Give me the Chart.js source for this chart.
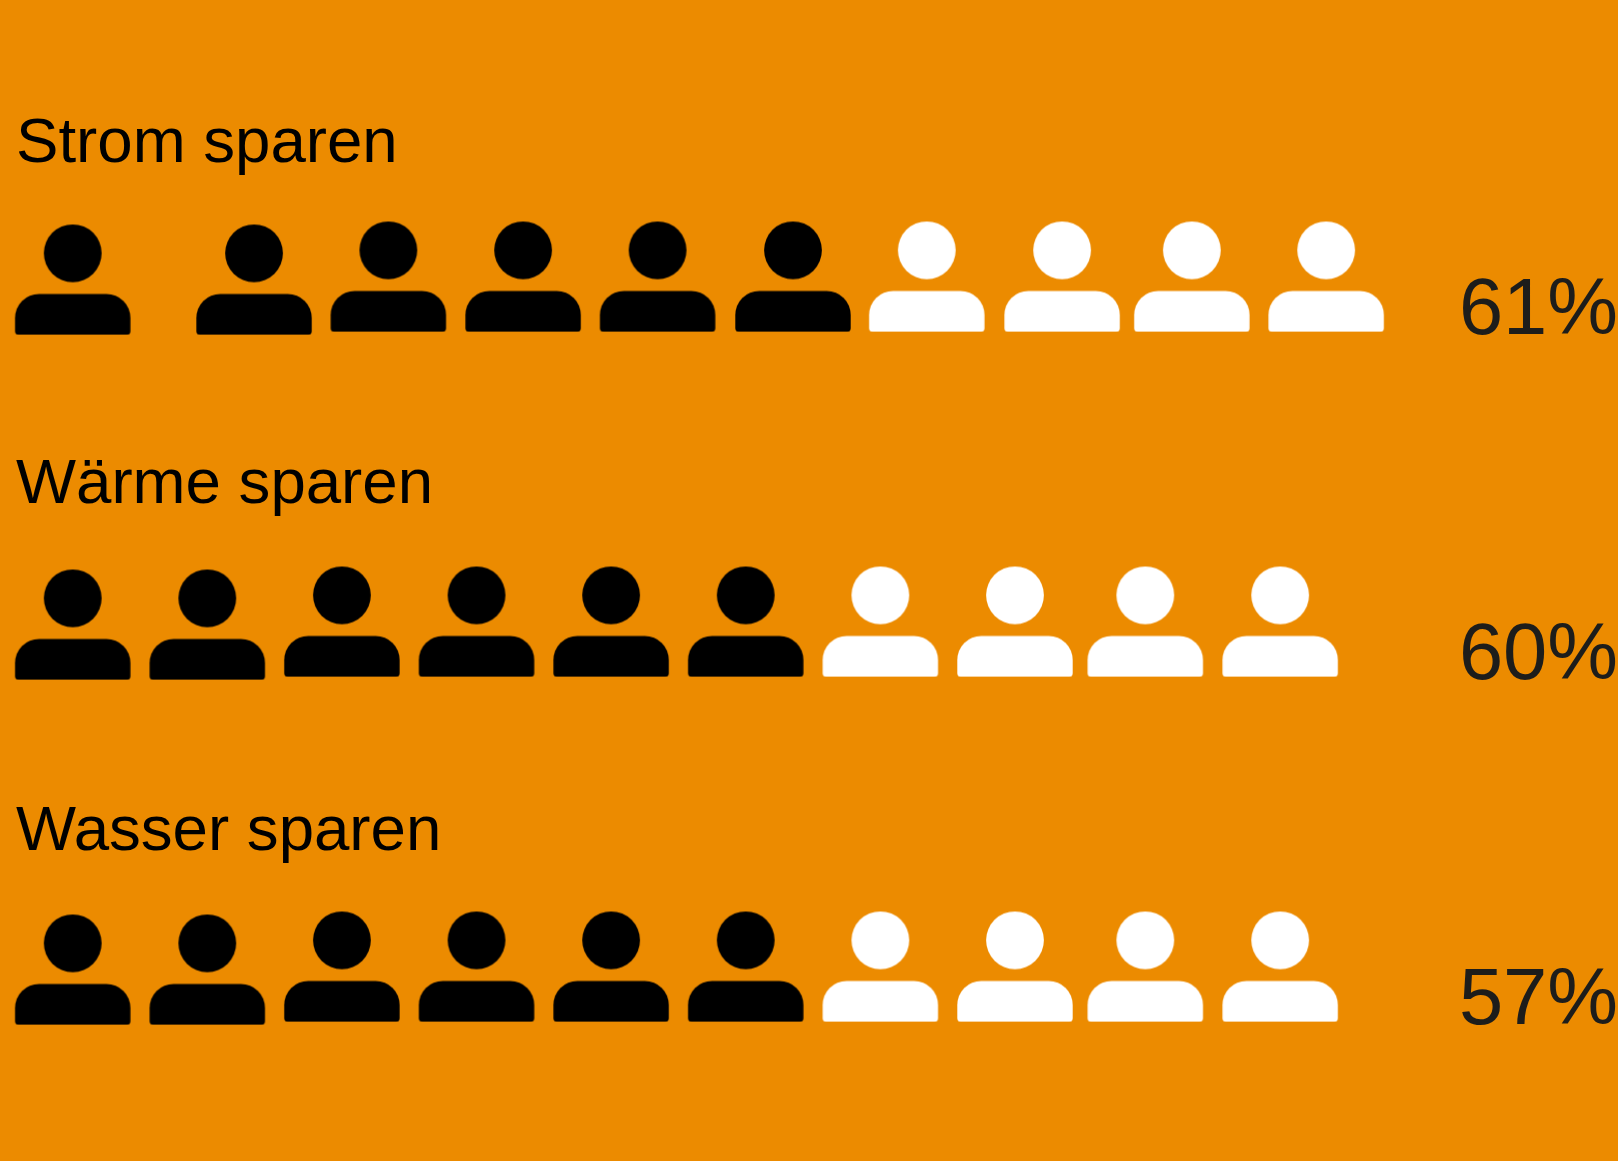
<!DOCTYPE html>
<html lang="de">
<head>
<meta charset="utf-8">
<title>Sparen</title>
<script src="https://cdn.jsdelivr.net/npm/chart.js@4"></script>
<style>
  html, body { margin: 0; padding: 0; background: #ec8b00; }
  canvas { display: block; }
</style>
</head>
<body>
<canvas id="myChart" width="1618" height="1161"></canvas>
<script>
const categories = ['Strom sparen', 'Wärme sparen', 'Wasser sparen'];
const shares = [61, 60, 57];
const personSlots = [0, 1, 2, 3, 4, 5, 6, 7, 8, 9];

// the icons in the original are not evenly spaced, slots are nudged per row
const slotShift = [
  [0, 0.347, 0.345, 0.346, 0.345, 0.351, 0.345, 0.35, 0.314, 0.312],
  [0, 0, 0, 0, 0, 0, 0, 0, -0.032, -0.03],
  [0, 0, 0, 0, 0, 0, 0, 0, -0.032, -0.03]
];
const slotDrop = [0.0087, 0.0087, 0, 0, 0, 0, 0, 0, 0, 0];
const titleOffset = [-0.382, -0.3947, -0.3883];
const shareOffset = [0.1023, 0.1023, 0.1023];

function person(color) {
  const c = document.createElement('canvas');
  c.width = 120;
  c.height = 112;
  const g = c.getContext('2d');
  g.fillStyle = color;
  g.beginPath();
  g.arc(60, 29.8, 28.9, 0, Math.PI * 2);
  g.fill();
  g.beginPath();
  g.roundRect(2.3, 70.5, 115.4, 40.7, [24, 24, 3.5, 3.5]);
  g.fill();
  return c;
}

const filled = [];
const empty = [];
categories.forEach((name, row) => {
  personSlots.forEach((slot, i) => {
    const p = { x: slot + slotShift[row][i], y: row + slotDrop[i] };
    if (slot < Math.round(shares[row] / 10)) filled.push(p);
    else empty.push(p);
  });
});

const rowTicks = (offset) => (axis) => {
  axis.ticks = categories.map((name, row) => ({ value: row + offset[row] }));
};
// labels sit inside the plot, the axes must not take any room of their own
const noRoom = (axis) => {
  axis.width = 0;
  axis.paddingTop = 0;
  axis.paddingBottom = 0;
};
const yBase = {
  min: -0.8014,
  max: 2.5638,
  reverse: true,
  grid: { display: false },
  border: { display: false },
  afterFit: noRoom
};

new Chart(document.getElementById('myChart'), {
  type: 'scatter',
  data: {
    datasets: [
      { label: 'Ja', data: filled, pointStyle: person('#000000') },
      { label: 'Nein', data: empty, pointStyle: person('#ffffff') }
    ]
  },
  options: {
    responsive: false,
    animation: false,
    layout: { padding: 0, autoPadding: false },
    plugins: { legend: { display: false }, tooltip: { enabled: false } },
    scales: {
      x: { type: 'linear', display: false, min: -0.54, max: 11.48 },
      y: {
        ...yBase,
        position: 'left',
        afterBuildTicks: rowTicks(titleOffset),
        ticks: {
          mirror: true,
          autoSkip: false,
          padding: 16,
          color: '#000000',
          font: { family: '"Liberation Sans"', size: 63.6 },
          callback: (value, i) => categories[i]
        }
      },
      yShare: {
        ...yBase,
        position: 'right',
        afterBuildTicks: rowTicks(shareOffset),
        ticks: {
          mirror: true,
          autoSkip: false,
          padding: 0,
          color: '#1d1d1b',
          font: { family: '"Liberation Sans"', size: 79.5 },
          callback: (value, i) => shares[i] + '%'
        }
      }
    }
  }
});
</script>
</body>
</html>
